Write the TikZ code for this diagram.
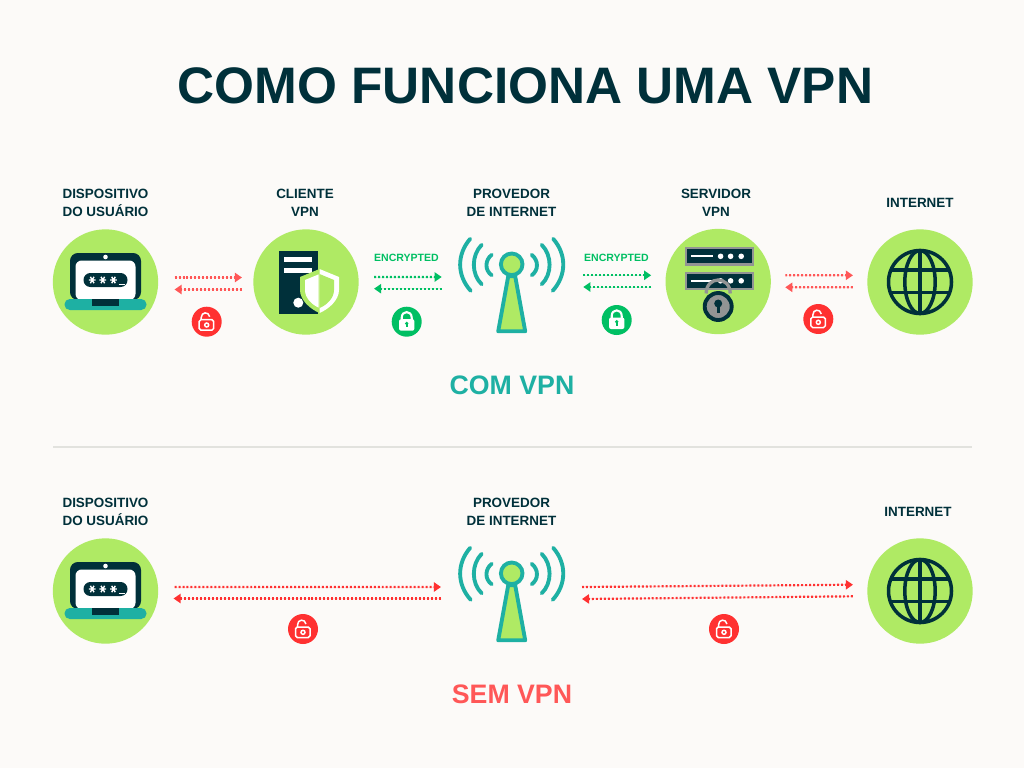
\documentclass[tikz,border=0pt]{standalone}
\usepackage{fontspec}
\setmainfont{Liberation Sans}
\usetikzlibrary{arrows.meta, positioning, calc}
\definecolor{fundoPagina}{RGB}{252,250,248}
\definecolor{limaDisco}{RGB}{175,234,100}
\definecolor{azulEscuro}{RGB}{0,48,58}
\definecolor{tealVpn}{RGB}{30,176,163}
\definecolor{vermelhoFluxo}{RGB}{255,87,87}
\definecolor{vermelhoForte}{RGB}{255,49,49}
\definecolor{verdeSeguro}{RGB}{0,191,99}
\definecolor{cinzaServidor}{RGB}{146,148,148}
\definecolor{linhaDivisao}{RGB}{226,226,222}
\tikzset{
  laptop/.pic={
    \fill[azulEscuro, rounded corners=4.5pt] (-35.5,-29) rectangle (35.5,18);
    \fill[white, rounded corners=3.5pt] (-30,-21.5) rectangle (30,18);
    \fill[white] (0,-25) circle[radius=2.3];
    \fill[azulEscuro, rounded corners=3.9pt] (-22,-9) rectangle (22,5);
    \foreach \sx in {-13.3,-2.7,8} {
      \draw[white, line width=0.8pt] (\sx-3.4,-2) -- (\sx+3.4,-2) (\sx-1.8,-5.2) -- (\sx+1.8,1.2) (\sx-1.8,1.2) -- (\sx+1.8,-5.2);
    }
    \draw[white, line width=0.6pt] (13,2.5) -- (19,2.5);
    \fill[tealVpn, rounded corners=3pt] (-41,17) rectangle (41,28);
    \fill[azulEscuro] (-13.5,17) rectangle (13,23.5);
  },
  torre/.pic={
    \fill[azulEscuro] (-26.7,-31.3) rectangle (11.7,31.7);
    \fill[white] (-21.7,-24.7) rectangle (5.7,-19.7);
    \fill[white] (-21.7,-14.3) rectangle (5.7,-9);
    \fill[white] (-7.7,20.7) circle[radius=5];
    \fill[limaDisco] (13.5,-13) -- (-6,-5) -- (-6,8) .. controls (-6,18) and (4,27) .. (13.5,31) .. controls (23,27) and (33,18) .. (33,8) -- (33,-5) -- cycle;
    \begin{scope}
      \clip (13.5,-20) rectangle (40,40);
      \fill[white] (13.5,-13) -- (-6,-5) -- (-6,8) .. controls (-6,18) and (4,27) .. (13.5,31) .. controls (23,27) and (33,18) .. (33,8) -- (33,-5) -- cycle;
      \fill[limaDisco] (13.5,-8) -- (-1,-2) -- (-1,8) .. controls (-1,16) and (6,23) .. (13.5,26) .. controls (21,23) and (28,16) .. (28,8) -- (28,-2) -- cycle;
    \end{scope}
    \begin{scope}
      \clip (-10,-20) rectangle (12.5,40);
      \fill[white] (13.5,-8) -- (-1,-2) -- (-1,8) .. controls (-1,16) and (6,23) .. (13.5,26) .. controls (21,23) and (28,16) .. (28,8) -- (28,-2) -- cycle;
    \end{scope}
  },
  antena/.pic={
    \draw[tealVpn, line width=2.2pt, fill=limaDisco, line join=round] (-3.5,12) -- (-13.5,67) -- (13.5,67) -- (3.5,12) -- cycle;
    \draw[tealVpn, line width=2.2pt, fill=limaDisco] (0,0) circle[radius=10.8];
    \foreach \sd in {-1,1} {
      \draw[tealVpn, line width=2.2pt, line cap=round] (\sd*20,-9.5) .. controls (\sd*27,-4) and (\sd*27,6) .. (\sd*20,11);
      \draw[tealVpn, line width=2.2pt, line cap=round] (\sd*30,-19.5) .. controls (\sd*40.5,-9) and (\sd*40.5,10) .. (\sd*30,20);
      \draw[tealVpn, line width=2.2pt, line cap=round] (\sd*41.5,-25.5) .. controls (\sd*55,-10) and (\sd*55,11) .. (\sd*41,26.5);
    }
  },
  servidor/.pic={
    \foreach \sy in {-25.2,-0.7} {
      \fill[cinzaServidor] (-33.3,\sy-9.2) rectangle (35.7,\sy+9.2);
      \fill[azulEscuro] (-31,\sy-7) rectangle (33.4,\sy+7);
      \draw[white, line width=1.2pt] (-27.3,\sy) -- (-5,\sy);
      \foreach \sx in {2.4,12.4,23} {
        \fill[white] (\sx,\sy) circle[radius=2.8];
      }
    }
    \draw[cinzaServidor, line width=1.9pt] (-12,12) .. controls (-12,-6) and (12,-6) .. (12,12);
    \draw[azulEscuro, line width=2.2pt, fill=cinzaServidor] (0,25) circle[radius=13.5];
    \fill[azulEscuro] (0,22) circle[radius=4];
    \fill[azulEscuro] (-1.7,22) rectangle (1.7,31);
  },
  globo/.pic={
    \draw[azulEscuro, line width=2pt] (0,0) circle[radius=31.5];
    \draw[azulEscuro, line width=2pt] (0,0) ellipse[x radius=15.2, y radius=31.5];
    \draw[azulEscuro, line width=2pt] (0,-31.5) -- (0,31.5);
    \draw[azulEscuro, line width=2pt] (-29,-12) -- (29,-12);
    \draw[azulEscuro, line width=2pt] (-29,10.7) -- (29,10.7);
  },
  abertoIcone/.pic={
    \draw[white, line width=0.85pt, rounded corners=1pt] (-7.5,-2) rectangle (7,8.5);
    \draw[white, line width=0.85pt] (0,3.3) circle[radius=2];
    \draw[white, line width=0.85pt] (-5.5,-2) -- (-5.5,-4) .. controls (-5.5,-10) and (2,-10.5) .. (3,-5);
  },
  fechadoIcone/.pic={
    \draw[white, line width=1.2pt] (-5,-1) -- (-5,-4) .. controls (-5,-11.5) and (5,-11.5) .. (5,-4) -- (5,-1);
    \fill[white, rounded corners=1.2pt] (-7.7,-2.5) rectangle (7.7,9);
    \fill[verdeSeguro] (0,1.7) circle[radius=1.8];
    \fill[verdeSeguro] (-0.8,1.7) rectangle (0.8,5.5);
  }
}
\begin{document}
\begin{tikzpicture}[
  x=0.02cm, y=-0.02cm,
  disco/.style={circle, fill=limaDisco, minimum size=2.108cm, inner sep=0pt},
  rotulo/.style={font=\fontsize{7.65}{10.2}\selectfont\bfseries, text=azulEscuro, align=center, inner sep=0pt},
  cifrado/.style={font=\fontsize{6}{7}\selectfont\bfseries, text=verdeSeguro, inner sep=0pt},
  cadeado/.style={circle, minimum size=0.6cm, inner sep=0pt},
  fluxo/.style={line width=1.25pt, dash pattern=on 1.134pt off 1.134pt, -{Triangle[length=4pt,width=5.2pt]}},
  fluxoR/.style={fluxo, draw=vermelhoFluxo, fill=vermelhoFluxo},
  fluxoF/.style={fluxo, draw=vermelhoForte, fill=vermelhoForte},
  fluxoV/.style={fluxo, draw=verdeSeguro, fill=verdeSeguro},
]
  \fill[fundoPagina] (0,0) rectangle (1024,768);
  \node[font=\fontsize{29.2}{32}\selectfont\bfseries, text=azulEscuro, inner sep=0pt] (titulo) at (525.5,86) {COMO FUNCIONA UMA VPN};

  % com vpn
  \node[rotulo] (lblDev) at (105.5,203) {DISPOSITIVO\\DO USUÁRIO};
  \node[rotulo] (lblCli) at (305,203) {CLIENTE\\VPN};
  \node[rotulo] (lblPro) at (511.5,203) {PROVEDOR\\DE INTERNET};
  \node[rotulo] (lblSrv) at (716,203) {SERVIDOR\\VPN};
  \node[rotulo] (lblNet) at (920,203) {INTERNET};

  \node[disco] (dev) at (105.5,282) {};
  \node[disco] (cli) at (306,282) {};
  \coordinate (pro) at (511.7,264.3);
  \node[disco] (srv) at (718.2,281.5) {};
  \node[disco] (net) at (920,282) {};
  \pic at (dev) {laptop};
  \pic at (cli) {torre};
  \pic at (pro) {antena};
  \pic at (srv) {servidor};
  \pic at (net) {globo};

  \draw[fluxoR] ([shift={(16,-4.5)}]dev.east) -- ([shift={(-11,-4.5)}]cli.west);
  \draw[fluxoR] ([shift={(-11,7.5)}]cli.west) -- ([shift={(16,7.5)}]dev.east);
  \draw[fluxoV] ([shift={(15,-5)}]cli.east) -- ([shift={(-70,12.7)}]pro);
  \draw[fluxoV] ([shift={(-70,24.4)}]pro) -- ([shift={(15,6.7)}]cli.east);
  \draw[fluxoV] ([shift={(71.6,11)}]pro) -- ([shift={(-14,-6.2)}]srv.west);
  \draw[fluxoV] ([shift={(-14,5.5)}]srv.west) -- ([shift={(71.6,22.7)}]pro);
  \draw[fluxoR] ([shift={(14,-6.2)}]srv.east) -- ([shift={(-14,-6.7)}]net.west);
  \draw[fluxoR] ([shift={(-14,5.3)}]net.west) -- ([shift={(14,5.8)}]srv.east);

  \node[cifrado] (encA) at (406.5,258) {ENCRYPTED};
  \node[cifrado] (encB) at (616.5,258) {ENCRYPTED};

  \node[cadeado, fill=vermelhoForte] (lockA) at (206.7,321.7) {};
  \node[cadeado, fill=verdeSeguro] (lockB) at (406.7,321.7) {};
  \node[cadeado, fill=verdeSeguro] (lockC) at (616.7,320) {};
  \node[cadeado, fill=vermelhoForte] (lockD) at (818.3,319) {};
  \pic at (lockA) {abertoIcone};
  \pic at (lockB) {fechadoIcone};
  \pic at (lockC) {fechadoIcone};
  \pic at (lockD) {abertoIcone};

  \node[font=\fontsize{15.2}{18}\selectfont\bfseries, text=tealVpn, inner sep=0pt] (com) at (512,385) {COM VPN};

  \coordinate (divA) at (53,447);
  \coordinate (divB) at (972,447);
  \draw[linhaDivisao, line width=1.13pt] (divA) -- (divB);

  % sem vpn
  \node[rotulo] (lblDev2) at (105.5,512) {DISPOSITIVO\\DO USUÁRIO};
  \node[rotulo] (lblPro2) at (511.5,512) {PROVEDOR\\DE INTERNET};
  \node[rotulo] (lblNet2) at (918,512) {INTERNET};

  \node[disco] (dev2) at (105.5,591) {};
  \coordinate (pro2) at (511.7,573.3);
  \node[disco] (net2) at (920,591) {};
  \pic at (dev2) {laptop};
  \pic at (pro2) {antena};
  \pic at (net2) {globo};

  \draw[fluxoF] ([shift={(16,-4)}]dev2.east) -- ([shift={(-70.7,13.7)}]pro2);
  \draw[fluxoF] ([shift={(-70.7,25.2)}]pro2) -- ([shift={(15,7.5)}]dev2.east);
  \draw[fluxoF] ([shift={(70.3,13.7)}]pro2) -- ([shift={(-14,-6.3)}]net2.west);
  \draw[fluxoF] ([shift={(-14,5.3)}]net2.west) -- ([shift={(70.3,25.7)}]pro2);

  \node[cadeado, fill=vermelhoForte] (lockE) at (303,629) {};
  \node[cadeado, fill=vermelhoForte] (lockF) at (724,629) {};
  \pic at (lockE) {abertoIcone};
  \pic at (lockF) {abertoIcone};

  \node[font=\fontsize{15.2}{18}\selectfont\bfseries, text=vermelhoFluxo, inner sep=0pt] (sem) at (512,694) {SEM VPN};
\end{tikzpicture}
\end{document}
